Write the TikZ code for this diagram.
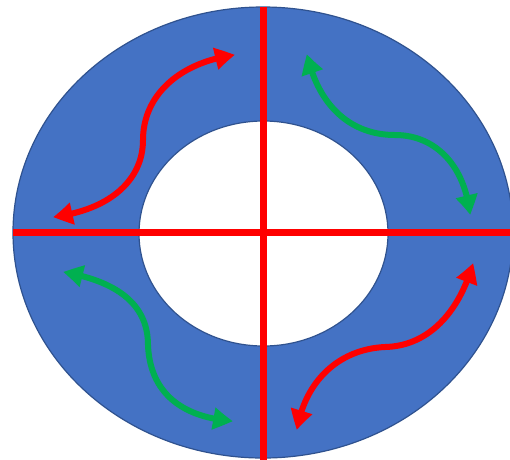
\documentclass[tikz,border=0pt]{standalone}
\usetikzlibrary{arrows.meta,bending}
\definecolor{ringblue}{HTML}{4472C4}
\definecolor{ringedge}{HTML}{2F528F}
\definecolor{cutred}{HTML}{FF0000}
\definecolor{flowgreen}{HTML}{00B050}
\tikzset{
  ring/.style={fill=ringblue, draw=ringedge, line width=1.2pt},
  hole/.style={fill=white, draw=ringedge, line width=1.2pt},
  cutline/.style={draw=cutred, line width=7pt},
  flow/.style={line width=6pt, {Triangle[length=20pt,width=21pt,bend]}-{Triangle[length=20pt,width=21pt,bend]}},
}
\begin{document}
\begin{tikzpicture}[x=1pt,y=-1pt]
\clip (0,0) rectangle (510,459);
\fill[white] (0,0) rectangle (510,459);
% ring
\coordinate (c) at (263,232.5);
\path[ring] (c) ellipse [x radius=250pt, y radius=225.5pt];
\path[hole] (263.5,233.5) ellipse [x radius=124.5pt, y radius=112.5pt];
% cut lines
\coordinate (vt) at (263,7);
\coordinate (vb) at (263,462);
\coordinate (hl) at (13,232.5);
\coordinate (hr) at (513,232.5);
\draw[cutline] (vt) -- (vb);
\draw[cutline] (hl) -- (hr);
% arrows
\coordinate (a1) at (53,217);
\coordinate (m1) at (143,140);
\coordinate (b1) at (235,55);
\draw[flow, draw=cutred] (a1) .. controls (110,210) and (143,180) .. (m1)
  .. controls (143,95) and (180,62) .. (b1);
\coordinate (a2) at (307,54);
\coordinate (m2) at (395,135);
\coordinate (b2) at (470,215);
\draw[flow, draw=flowgreen] (a2) .. controls (318,105) and (350,135) .. (m2)
  .. controls (435,135) and (465,165) .. (b2);
\coordinate (a3) at (63,272);
\coordinate (m3) at (148,345);
\coordinate (b3) at (233,421);
\draw[flow, draw=flowgreen] (a3) .. controls (110,280) and (148,300) .. (m3)
  .. controls (150,395) and (185,418) .. (b3);
\coordinate (a4) at (473,263);
\coordinate (m4) at (385,347);
\coordinate (b4) at (297,430);
\draw[flow, draw=cutred] (a4) .. controls (460,310) and (430,346) .. (m4)
  .. controls (340,349) and (305,380) .. (b4);
\end{tikzpicture}
\end{document}
